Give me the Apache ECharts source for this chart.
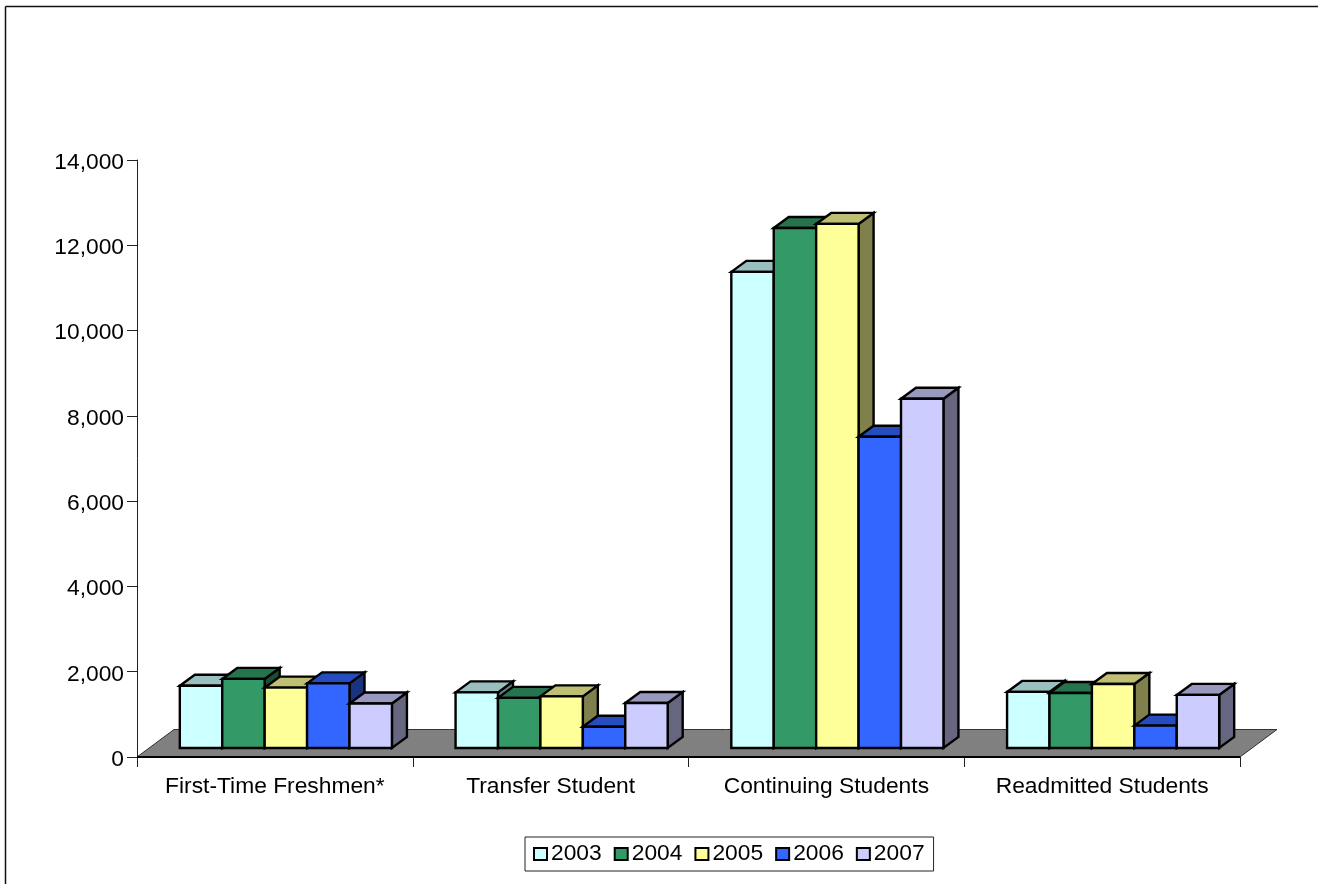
<!DOCTYPE html>
<html>
<head>
<meta charset="utf-8">
<script src="https://cdn.jsdelivr.net/npm/echarts@6/dist/echarts.min.js"></script>
<style>html,body{margin:0;padding:0;background:#fff}#c{width:1318px;height:884px}</style>
</head>
<body>
<div id="c"></div>
<script>
const categories = ['First-Time Freshmen*', 'Transfer Student', 'Continuing Students', 'Readmitted Students'];
const years = ['2003', '2004', '2005', '2006', '2007'];
const v2003 = [1460, 1305, 11165, 1315];
const v2004 = [1620, 1175, 12195, 1290];
const v2005 = [1415, 1210, 12290, 1500];
const v2006 = [1515, 500, 7300, 525];
const v2007 = [1045, 1055, 8190, 1245];
const seriesValues = [v2003, v2004, v2005, v2006, v2007];
const colors = ['#CCFFFF', '#339966', '#FFFF99', '#3366FF', '#CCCCFF'];
const yTicks = {min: 0, max: 14000, interval: 2000};

const FONT = '"Liberation Sans", Arial, sans-serif';
const FONT_SIZE = 22.8;
const FLOOR_DX = 37, FLOOR_DY = 27.5;
const BAR_DX = 15, BAR_DY = 11;
const FRONT_DX = 11, FRONT_DY = 9;
const GAP_RATIO = 1.5;

function shade(hex, k) {
  const n = parseInt(hex.slice(1), 16);
  const c = [(n >> 16) & 255, (n >> 8) & 255, n & 255].map(v => Math.round(v * k));
  return 'rgb(' + c.join(',') + ')';
}
function poly(points, fill, stroke, w) {
  return {type: 'polygon', shape: {points}, style: {fill, stroke: stroke, lineWidth: w, lineJoin: 'miter'}};
}

function renderBar(seriesIdx) {
  return function (params, api) {
    const cat = api.value(0), val = api.value(1);
    const base = api.coord([cat, 0]);
    const top = api.coord([cat, val]);
    const band = api.size([1, 0])[0];
    const w = band / (years.length + GAP_RATIO);
    const x0 = base[0] - w * years.length / 2 + w * seriesIdx + FRONT_DX;
    const x1 = x0 + w;
    const yb = base[1] - FRONT_DY;
    const yt = top[1] - FRONT_DY;
    const c = colors[seriesIdx];
    const bw = 2.4;
    return {
      type: 'group',
      children: [
        poly([[x1, yt], [x1 + BAR_DX, yt - BAR_DY], [x1 + BAR_DX, yb - BAR_DY], [x1, yb]], shade(c, 0.5), '#000', bw),
        poly([[x0, yt], [x0 + BAR_DX, yt - BAR_DY], [x1 + BAR_DX, yt - BAR_DY], [x1, yt]], shade(c, 0.75), '#000', bw),
        poly([[x0, yt], [x1, yt], [x1, yb], [x0, yb]], c, '#000', bw)
      ]
    };
  };
}

function renderFloor(params, api) {
  const cs = params.coordSys;
  const l = cs.x, r = cs.x + cs.width, y = cs.y + cs.height;
  return {
    type: 'group',
    children: [
      poly([[l, y], [l + FLOOR_DX, y - FLOOR_DY], [r + FLOOR_DX, y - FLOOR_DY], [r, y]], '#808080', '#333', 1),
      {type: 'line', shape: {x1: l, y1: y, x2: r, y2: y}, style: {stroke: '#000', lineWidth: 1.8}}
    ]
  };
}

const series = [{
  type: 'custom',
  name: '__floor',
  silent: true,
  renderItem: renderFloor,
  clip: false,
  data: [[0, 0]],
  encode: {x: 0, y: 1},
  z: 2
}];
years.forEach((yr, i) => {
  series.push({
    type: 'custom',
    name: yr,
    renderItem: renderBar(i),
    clip: false,
    itemStyle: {color: colors[i]},
    data: seriesValues[i].map((v, k) => [k, v]),
    encode: {x: 0, y: 1},
    z: 3 + i
  });
});

const chart = echarts.init(document.getElementById('c'), null, {renderer: 'canvas'});
chart.setOption({
  animation: false,
  backgroundColor: '#fff',
  textStyle: {fontFamily: FONT},
  grid: {left: 137, top: 160, width: 1103, height: 597, containLabel: false},
  xAxis: {
    type: 'category',
    data: categories,
    boundaryGap: true,
    axisLine: {show: true, lineStyle: {color: '#222', width: 1}},
    axisTick: {show: true, length: 10, alignWithLabel: false, lineStyle: {color: '#222', width: 1}},
    axisLabel: {color: '#000', fontFamily: FONT, fontSize: FONT_SIZE, margin: 18, interval: 0}
  },
  yAxis: {
    type: 'value',
    min: yTicks.min,
    max: yTicks.max,
    interval: yTicks.interval,
    splitLine: {show: false},
    axisLine: {show: true, lineStyle: {color: '#222', width: 1}},
    axisTick: {show: true, length: 10, lineStyle: {color: '#222', width: 1}},
    axisLabel: {
      color: '#000', fontFamily: FONT, fontSize: FONT_SIZE, margin: 13,
      formatter: v => '{t|' + v.toLocaleString('en-US') + '}',
      rich: {t: {color: '#000', fontFamily: FONT, fontSize: FONT_SIZE, padding: [5, 0, 0, 0]}}
    }
  },
  legend: {
    data: years.map(y => ({name: y, icon: 'rect', itemStyle: {borderColor: '#000', borderWidth: 2}})),
    left: 525,
    top: 837,
    orient: 'horizontal',
    backgroundColor: '#fff',
    borderColor: '#222',
    borderWidth: 1,
    padding: [5.5, 9, 5.5, 8],
    itemWidth: 13,
    itemHeight: 12,
    itemGap: 12,
    textStyle: {color: '#000', fontFamily: FONT, fontSize: FONT_SIZE, padding: [2, 0, 0, -1]},
    selectedMode: false
  },
  tooltip: {show: false},
  graphic: [
    {type: 'line', shape: {x1: 5.5, y1: 6.5, x2: 1318, y2: 6.5}, style: {stroke: '#111', lineWidth: 1.5}, silent: true},
    {type: 'line', shape: {x1: 5.5, y1: 6.5, x2: 5.5, y2: 884}, style: {stroke: '#111', lineWidth: 1.5}, silent: true}
  ],
  series: series
});
</script>
</body>
</html>
